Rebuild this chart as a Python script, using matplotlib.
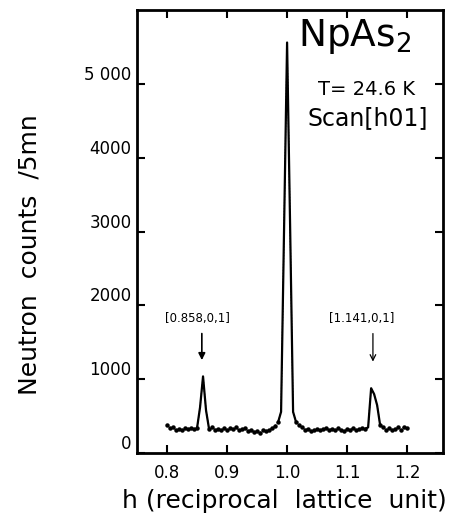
#NpAs2 neutron scan along [h01] at T = 24.6 K

import numpy as np
import matplotlib.pyplot as plt

#scan points, h from 0.80 to 1.20 in steps of 0.005
h = np.round(np.arange(0.80, 1.2001, 0.005), 3)
counts = np.array([
    380, 340, 350, 310, 330, 320, 340, 330, 340, 330,   # 0.800 - 0.845
    340, 620, 1040, 580, 330, 350, 320, 330, 310, 340,  # 0.850 - 0.895
    320, 340, 330, 350, 310, 330, 340, 300, 320, 290,   # 0.900 - 0.945
    300, 280, 310, 300, 320, 340, 370, 420, 560, 3050,  # 0.950 - 0.995
    5560, 3100, 560, 420, 380, 350, 320, 330, 300, 320, # 1.000 - 1.045
    330, 310, 330, 340, 320, 330, 310, 340, 320, 300,   # 1.050 - 1.095
    330, 320, 340, 310, 330, 340, 330, 350, 880, 800,   # 1.100 - 1.145
    650, 380, 350, 320, 340, 310, 330, 350, 320, 360,   # 1.150 - 1.195
    340])                                               # 1.200

xticks = [0.8, 0.9, 1.0, 1.1, 1.2]
xticklabels = ["0.8", "0.9", "1.0", "1.1", "1.2"]
yticks = [0, 1000, 2000, 3000, 4000, 5000]
yticklabels = ["0", "1000", "2000", "3000", "4000", "5 000"]

#satellite peaks labelled in the figure
sat_h = [0.858, 1.143]
sat_labels = ["[0.858,0,1]", "[1.141,0,1]"]
sat_text_h = [0.850, 1.125]

fig = plt.figure(figsize=(4.66, 5.27), dpi=100)
ax = fig.add_axes([0.294, 0.140, 0.657, 0.841])

#peaks as solid lines, background as dots
peak = [(10, 15), (37, 44), (66, 72)]
bg = np.ones(len(h), dtype=bool)
for a, b in peak:
    ax.plot(h[a:b], counts[a:b], color="black", lw=1.6)
    bg[a + 1:b - 1] = False
ax.plot(h[bg], counts[bg], ls="none", marker="o", ms=2.2, color="black")
ax.plot(h, counts, ls=":", lw=0.8, color="black")

ax.set_xlim(0.75, 1.26)
ax.set_ylim(0, 6000)
ax.set_xticks(xticks)
ax.set_xticklabels(xticklabels)
ax.set_yticks(yticks)
ax.set_yticklabels(yticklabels)
for lab in ax.get_yticklabels():
    lab.set_va("bottom")
ax.tick_params(direction="in", length=6, width=1.5, labelsize=12,
               top=True, right=True, pad=4)
ax.tick_params(axis="x", pad=8)
for s in ax.spines.values():
    s.set_linewidth(2)

ax.set_xlabel("h (reciprocal  lattice  unit)", fontsize=18, va="center")
ax.xaxis.set_label_coords(0.48, -0.107)
ax.set_ylabel("Neutron  counts  /5mn", fontsize=18, va="center")
ax.yaxis.set_label_coords(-0.35, 0.447)

ax.text(1.113, 5900, r"NpAs$_2$", fontsize=27, ha="center", va="top")
ax.text(1.133, 4930, "T= 24.6 K", fontsize=14, ha="center", va="center")
ax.text(1.135, 4540, "Scan[h01]", fontsize=17, ha="center", va="center")

for i in range(2):
    ax.text(sat_text_h[i], 1830, sat_labels[i], fontsize=8.5,
            ha="center", va="center")
ax.annotate("", xy=(sat_h[0], 1260), xytext=(sat_h[0], 1620),
            arrowprops=dict(arrowstyle="-|>", color="black", lw=1.2,
                            shrinkA=0, shrinkB=0))
ax.annotate("", xy=(sat_h[1], 1240), xytext=(sat_h[1], 1620),
            arrowprops=dict(arrowstyle="->", color="black", lw=0.9,
                            shrinkA=0, shrinkB=0))

plt.savefig("out.png", dpi=100)
